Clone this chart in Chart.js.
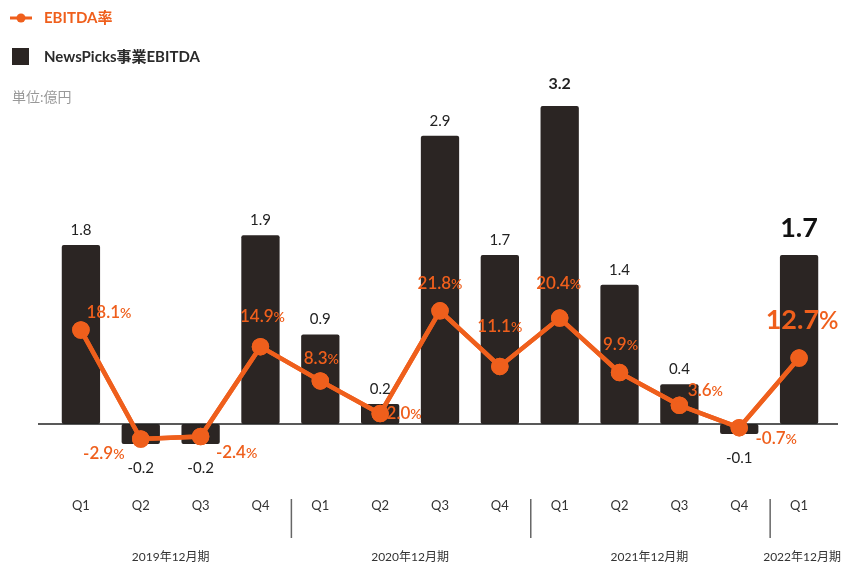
<!DOCTYPE html>
<html>
<head>
<meta charset="utf-8">
<script src="https://cdn.jsdelivr.net/npm/chart.js@4"></script>
<style>
  body { margin: 0; background: #fff; }
  #wrap { width: 844px; height: 565px; position: relative; }
</style>
</head>
<body>
<div id="wrap"><canvas id="chart"></canvas></div>
<script>
const quarters = ['Q1', 'Q2', 'Q3', 'Q4', 'Q1', 'Q2', 'Q3', 'Q4', 'Q1', 'Q2', 'Q3', 'Q4', 'Q1'];
const fiscalYears = ['2019年12月期', '2020年12月期', '2021年12月期', '2022年12月期'];
const yearSpans = [[0, 3], [4, 7], [8, 11], [12, 12]];
const ebitda = [1.8, -0.2, -0.2, 1.9, 0.9, 0.2, 2.9, 1.7, 3.2, 1.4, 0.4, -0.1, 1.7];
const ebitdaMargin = [18.1, -2.9, -2.4, 14.9, 8.3, 2.0, 21.8, 11.1, 20.4, 9.9, 3.6, -0.7, 12.7];

// where each % label sits relative to its point (dx, dy)
const marginLabelOffsets = [
  [28, -18], [-37, 14], [36, 16], [2, -31], [1, -23], [24, -1], [0, -28],
  [0, -40], [-1, -35], [1, -29], [26, -15], [37, 10], [3, -39]
];

const ORANGE = '#ef5f1c';
const DARK = '#2b2523';
const FONT = 'Lato, "Noto Sans CJK JP", sans-serif';

const overlay = {
  id: 'overlay',
  afterDatasetsDraw(chart) {
    const ctx = chart.ctx;
    const x = chart.scales.x;
    const y = chart.scales.y;
    const zeroY = y.getPixelForValue(0);

    ctx.save();
    // baseline
    ctx.strokeStyle = '#222';
    ctx.lineWidth = 1.5;
    ctx.beginPath();
    ctx.moveTo(38, zeroY);
    ctx.lineTo(838, zeroY);
    ctx.stroke();

    // redraw line on top of baseline
    chart.getDatasetMeta(0).controller.draw();

    // bar value labels
    ctx.textAlign = 'center';
    ctx.textBaseline = 'middle';
    const bars = chart.getDatasetMeta(1).data;
    bars.forEach((bar, i) => {
      const v = ebitda[i];
      const last = i === ebitda.length - 1;
      const isMax = v === Math.max(...ebitda);
      ctx.fillStyle = last ? '#111' : '#222';
      if (last) ctx.font = '700 27px ' + FONT;
      else if (isMax) ctx.font = '700 16px ' + FONT;
      else ctx.font = '400 15px ' + FONT;
      let ty;
      if (v >= 0) ty = bar.y - (last ? 27 : isMax ? 22 : 15);
      else ty = bar.y + 24;
      ctx.fillText(v.toFixed(1), bar.x, ty);
    });

    // EBITDA margin labels
    const pts = chart.getDatasetMeta(0).data;
    pts.forEach((p, i) => {
      const last = i === pts.length - 1;
      const num = ebitdaMargin[i].toFixed(1);
      const bigF = (last ? '700 27px ' : '600 17px ') + FONT;
      const smallF = (last ? '600 24px ' : '600 14px ') + FONT;
      ctx.font = bigF;
      const w1 = ctx.measureText(num).width;
      ctx.font = smallF;
      const w2 = ctx.measureText('%').width;
      const cx = p.x + marginLabelOffsets[i][0];
      const cy = p.y + marginLabelOffsets[i][1];
      const left = cx - (w1 + w2) / 2;
      ctx.fillStyle = ORANGE;
      ctx.textAlign = 'left';
      ctx.textBaseline = 'alphabetic';
      ctx.font = bigF;
      ctx.fillText(num, left, cy + (last ? 10 : 6));
      ctx.font = smallF;
      ctx.fillText('%', left + w1, cy + (last ? 10 : 6));
    });

    // category labels
    ctx.textAlign = 'center';
    ctx.textBaseline = 'middle';
    ctx.fillStyle = '#333';
    ctx.font = '400 13px ' + FONT;
    quarters.forEach((q, i) => {
      ctx.fillText(q, x.getPixelForValue(i), 506);
    });

    // fiscal year labels
    ctx.font = '400 12px ' + FONT;
    fiscalYears.forEach((fy, k) => {
      const [a, b] = yearSpans[k];
      const cx = (x.getPixelForValue(a) + x.getPixelForValue(b)) / 2;
      ctx.fillText(fy, k === fiscalYears.length - 1 ? cx + 3 : cx, 557);
    });

    // separators between fiscal years
    ctx.strokeStyle = '#666';
    ctx.lineWidth = 1.5;
    yearSpans.slice(1).forEach(([a]) => {
      const sx = (x.getPixelForValue(a - 1) + x.getPixelForValue(a)) / 2 + 1;
      ctx.beginPath();
      ctx.moveTo(sx, 499);
      ctx.lineTo(sx, 538);
      ctx.stroke();
    });

    // legend
    ctx.strokeStyle = ORANGE;
    ctx.lineWidth = 3;
    ctx.beginPath();
    ctx.moveTo(10, 18);
    ctx.lineTo(32, 18);
    ctx.stroke();
    ctx.fillStyle = ORANGE;
    ctx.beginPath();
    ctx.arc(21, 18, 4.5, 0, Math.PI * 2);
    ctx.fill();
    ctx.textAlign = 'left';
    ctx.font = '700 15px ' + FONT;
    ctx.fillText('EBITDA率', 44, 18);
    ctx.fillStyle = DARK;
    ctx.fillRect(12, 48, 17, 17);
    ctx.fillStyle = '#2a2a2a';
    ctx.fillText('NewsPicks事業EBITDA', 44, 57);
    ctx.fillStyle = '#999';
    ctx.font = '400 14px ' + FONT;
    ctx.fillText('単位:億円', 12, 97);
    ctx.restore();
  }
};

new Chart(document.getElementById('chart'), {
  data: {
    labels: quarters,
    datasets: [
      {
        type: 'line',
        label: 'EBITDA率',
        data: ebitdaMargin,
        yAxisID: 'y2',
        borderColor: ORANGE,
        backgroundColor: ORANGE,
        borderWidth: 4.5,
        pointRadius: 6.5,
        pointHoverRadius: 6.5,
        tension: 0,
        order: 0
      },
      {
        type: 'bar',
        label: 'NewsPicks事業EBITDA',
        data: ebitda,
        yAxisID: 'y',
        backgroundColor: DARK,
        borderRadius: 2,
        borderSkipped: false,
        barPercentage: 0.64,
        categoryPercentage: 1,
        order: 1
      }
    ]
  },
  options: {
    responsive: true,
    maintainAspectRatio: false,
    animation: false,
    layout: { padding: { left: 51, right: 15, top: 60, bottom: 85 } },
    scales: {
      x: { display: false, offset: true },
      y: { display: false, min: -0.5634, max: 3.662 },
      y2: { display: false, min: -10.79, max: 70.13 }
    },
    plugins: {
      legend: { display: false },
      tooltip: { enabled: false }
    }
  },
  plugins: [overlay]
});
</script>
</body>
</html>
